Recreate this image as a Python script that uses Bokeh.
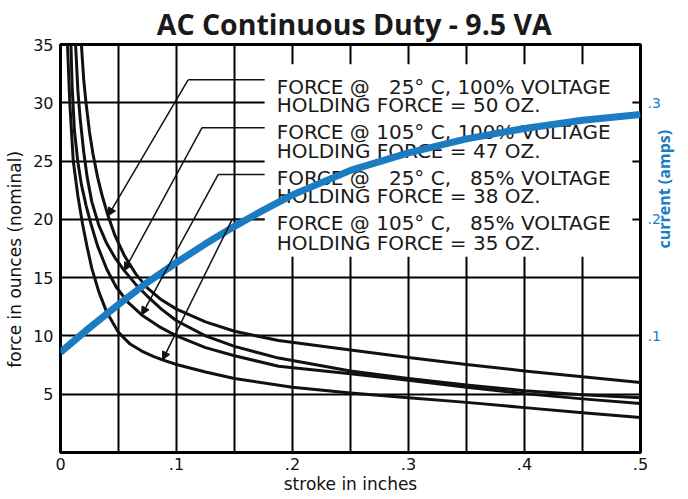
import math
from bokeh.plotting import figure
from bokeh.models import (Range1d, LinearAxis, FixedTicker, CustomJSTickFormatter,
                          Arrow, NormalHead)
from bokeh.core.properties import value
from bokeh.embed import file_html
from bokeh.resources import INLINE

# ---------------- data ----------------
# Force curves (stroke in inches -> force in ounces)
a_x = [0.018, 0.020, 0.022, 0.025, 0.028, 0.032, 0.036, 0.041, 0.047, 0.055, 0.065, 0.075,
       0.087, 0.100, 0.125, 0.150, 0.188, 0.250, 0.300, 0.350, 0.400, 0.450, 0.500]
a_y = [35.0, 32.0, 30.0, 27.5, 25.6, 23.6, 22.0, 20.3, 18.6, 16.9, 15.3, 14.1,
       13.1, 12.3, 11.2, 10.4, 9.6, 8.8, 8.15, 7.55, 7.0, 6.5, 6.0]

b_x = [0.013, 0.015, 0.017, 0.020, 0.023, 0.027, 0.033, 0.040, 0.047, 0.055, 0.065, 0.075,
       0.087, 0.100, 0.125, 0.150, 0.188, 0.250, 0.300, 0.350, 0.400, 0.450, 0.500]
b_y = [35.0, 31.0, 28.6, 25.8, 23.6, 21.5, 19.5, 17.9, 16.7, 15.6, 14.4, 13.4,
       12.3, 11.3, 10.0, 9.1, 8.1, 7.0, 6.35, 5.8, 5.3, 4.95, 4.7]

c_x = [0.009, 0.010, 0.012, 0.015, 0.018, 0.022, 0.026, 0.032, 0.040, 0.048, 0.058, 0.070,
       0.085, 0.100, 0.125, 0.150, 0.188, 0.250, 0.300, 0.350, 0.400, 0.450, 0.500]
c_y = [35.0, 31.5, 27.6, 24.9, 23.0, 21.2, 19.7, 17.7, 15.7, 14.2, 12.9, 11.8,
       10.8, 10.0, 9.0, 8.3, 7.4, 6.75, 6.2, 5.6, 5.05, 4.6, 4.2]

d_x = [0.006, 0.008, 0.011, 0.015, 0.019, 0.023, 0.027, 0.033, 0.040, 0.050, 0.060, 0.070,
       0.080, 0.088, 0.100, 0.125, 0.150, 0.200, 0.250, 0.300, 0.350, 0.400, 0.450, 0.500]
d_y = [35.0, 30.0, 25.0, 22.0, 19.6, 17.6, 15.8, 13.8, 12.0, 10.3, 9.3, 8.7,
       8.25, 7.95, 7.55, 6.9, 6.35, 5.6, 5.1, 4.7, 4.3, 3.85, 3.4, 3.0]

# Coil current (amps)
cur_x = [0.0, 0.025, 0.05, 0.075, 0.1, 0.125, 0.15, 0.175, 0.2, 0.25, 0.3, 0.35, 0.4, 0.45, 0.5]
cur_y = [0.086, 0.107, 0.127, 0.146, 0.163, 0.179, 0.194, 0.208, 0.221, 0.242, 0.257, 0.269,
         0.278, 0.285, 0.290]

legend_lines = [
    "FORCE @ \u200725\u00b0 C, 100% VOLTAGE",
    "HOLDING FORCE = 50 OZ.",
    "FORCE @ 105\u00b0 C, 100% VOLTAGE",
    "HOLDING FORCE = 47 OZ.",
    "FORCE @ \u200725\u00b0 C, \u200785% VOLTAGE",
    "HOLDING FORCE = 38 OZ.",
    "FORCE @ 105\u00b0 C, \u200785% VOLTAGE",
    "HOLDING FORCE = 35 OZ.",
]

x_ticks = [0.0, 0.1, 0.2, 0.3, 0.4, 0.5]
x_minor = [0.05, 0.15, 0.25, 0.35, 0.45]
y_ticks = [5, 10, 15, 20, 25, 30, 35]
amp_ticks = [0.1, 0.2, 0.3]

title_text = "AC Continuous Duty - 9.5 VA"
xlabel = "stroke in inches"
ylabel = "force in ounces (nominal)"
rlabel = "current (amps)"

# ---------------- layout / style ----------------
BLUE = "#1b7cc2"
FONT = "DejaVu Sans"

p = figure(width=688, height=499, output_backend="svg", toolbar_location=None,
           x_range=Range1d(0, 0.5), y_range=Range1d(0, 35),
           min_border_left=60, min_border_right=46, min_border_top=43, min_border_bottom=47)
p.extra_y_ranges = {"amps": Range1d(0, 0.35)}
p.background_fill_color = "white"
p.border_fill_color = "white"
p.outline_line_color = "black"
p.outline_line_width = 3

p.title.text = "\u00a0" + title_text
p.title.align = "center"
p.title.text_font = "Open Sans"
p.title.text_font_style = "bold"
p.title.text_font_size = "28.5px"
p.title.text_color = "#1a1a1a"
p.title.standoff = 4

fmt = CustomJSTickFormatter(code="return tick == 0 ? '0' : ('.' + Math.round(tick*10));")

xa = p.xaxis[0]
xa.ticker = FixedTicker(ticks=x_ticks, minor_ticks=x_minor)
xa.formatter = fmt
ya = p.yaxis[0]
ya.ticker = FixedTicker(ticks=y_ticks)

ra = LinearAxis(y_range_name="amps", ticker=FixedTicker(ticks=amp_ticks), formatter=fmt)
p.add_layout(ra, "right")

for ax in (xa, ya, ra):
    ax.axis_line_color = None
    ax.major_tick_line_color = None
    ax.minor_tick_line_color = None
    ax.major_tick_in = 0
    ax.major_tick_out = 0
    ax.minor_tick_in = 0
    ax.minor_tick_out = 0
    ax.major_label_text_font = FONT
    ax.major_label_text_font_size = "16px"
    ax.major_label_text_color = "#111111"
    ax.axis_label_text_font = FONT
    ax.axis_label_text_font_size = "17px"
    ax.axis_label_text_font_style = "normal"
    ax.axis_label_text_color = "#111111"

xa.major_label_standoff = 5
xa.axis_label = xlabel
xa.axis_label_standoff = 1

ya.major_label_standoff = 7
ya.axis_label = ylabel + "\u00a0" * 4
ya.axis_label_standoff = 5

ra.major_label_standoff = 7
ra.major_label_text_color = BLUE
ra.major_label_text_font_size = "14px"
ra.axis_label = rlabel
ra.axis_label_orientation = math.pi / 2   # reads bottom-to-top like the reference
ra.axis_label_standoff = 0
ra.axis_label_text_font = "Open Sans"
ra.axis_label_text_font_style = "bold"
ra.axis_label_text_font_size = "16px"
ra.axis_label_text_color = BLUE

p.xgrid.grid_line_color = "black"
p.xgrid.grid_line_width = 2
p.xgrid.minor_grid_line_color = "black"
p.xgrid.minor_grid_line_width = 2
p.ygrid.grid_line_color = "black"
p.ygrid.grid_line_width = 2

# white panel behind the legend text (hides the grid)
box_l, box_r, box_b, box_t = 0.176, 0.493, 16.8, 33.3
p.quad(left=[box_l], right=[box_r], bottom=[box_b], top=[box_t],
       fill_color="white", line_color=None)

# force curves
for xs, ys in ((a_x, a_y), (b_x, b_y), (c_x, c_y), (d_x, d_y)):
    p.line(xs, ys, line_width=3, color="#111111", line_join="round")

# legend text
text_x = 0.1864
text_y = [31.37, 29.83, 27.52, 25.9, 23.59, 21.97, 19.66, 17.95]
p.text(x=[text_x] * len(legend_lines), y=text_y, text=legend_lines,
       text_font=value(FONT), text_font_size="20px", text_baseline="middle",
       text_color="#1a1a1a")

# leader lines with arrows pointing at the curves
leader_y = [31.97, 27.86, 23.85, 20.0]
elbow_x = [0.110, 0.122, 0.136, 0.148]
tips = [(a_x[a_x.index(0.041)], a_y[a_x.index(0.041)]),
        (b_x[b_x.index(0.055)], b_y[b_x.index(0.055)]),
        (c_x[c_x.index(0.070)], c_y[c_x.index(0.070)]),
        (d_x[d_x.index(0.088)], d_y[d_x.index(0.088)])]
p.multi_line(xs=[[box_l, ex] for ex in elbow_x], ys=[[ly, ly] for ly in leader_y],
             line_width=1.5, color="#111111")
for ex, ly, (tx, ty) in zip(elbow_x, leader_y, tips):
    p.add_layout(Arrow(end=NormalHead(size=8, fill_color="#111111", line_color="#111111", line_width=1),
                       x_start=ex, y_start=ly, x_end=tx, y_end=ty,
                       line_width=1.5, line_color="#111111"))

# current curve
p.line(cur_x, cur_y, y_range_name="amps", line_width=7, color=BLUE)

open("out.html", "w").write(file_html(p, INLINE))
